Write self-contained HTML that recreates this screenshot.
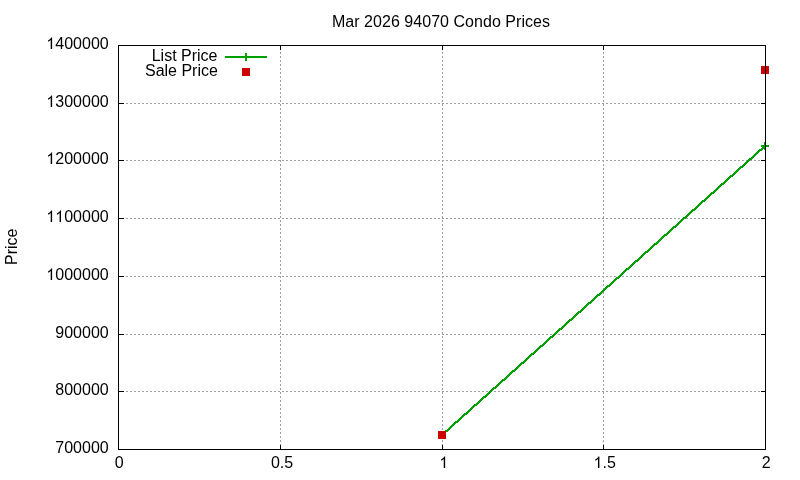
<!DOCTYPE html>
<html><head><meta charset="utf-8"><style>
html,body{margin:0;padding:0;background:#fff;width:800px;height:480px;overflow:hidden}
svg{display:block;will-change:transform}
text{font-family:"Liberation Sans",sans-serif;font-size:16px;fill:#000}
.g{stroke:#a0a0a0;stroke-width:1;stroke-dasharray:2 2;stroke-dashoffset:0.5}
.gv{stroke:#a0a0a0;stroke-width:1;stroke-dasharray:2 2;stroke-dashoffset:1.5}
</style></head><body>
<svg width="800" height="480" viewBox="0 0 800 480">
<line x1="118.5" y1="103.5" x2="765.5" y2="103.5" class="g"/>
<line x1="118.5" y1="160.5" x2="765.5" y2="160.5" class="g"/>
<line x1="118.5" y1="218.5" x2="765.5" y2="218.5" class="g"/>
<line x1="118.5" y1="276.5" x2="765.5" y2="276.5" class="g"/>
<line x1="118.5" y1="334.5" x2="765.5" y2="334.5" class="g"/>
<line x1="118.5" y1="391.5" x2="765.5" y2="391.5" class="g"/>
<line x1="280.5" y1="45.5" x2="280.5" y2="449.5" class="gv"/>
<line x1="442.5" y1="45.5" x2="442.5" y2="449.5" class="gv"/>
<line x1="603.5" y1="45.5" x2="603.5" y2="449.5" class="gv"/>
<path d="M118 45.5H124M761 45.5H766M118 103.5H124M761 103.5H766M118 160.5H124M761 160.5H766M118 218.5H124M761 218.5H766M118 276.5H124M761 276.5H766M118 334.5H124M761 334.5H766M118 391.5H124M761 391.5H766M118 449.5H124M761 449.5H766M118.5 450V445M118.5 45V50M280.5 450V445M280.5 45V50M442.5 450V445M442.5 45V50M603.5 450V445M603.5 45V50M765.5 450V445M765.5 45V50" stroke="#000" stroke-width="1" fill="none"/>
<path d="M441 434h1v2h-1zM442 433h1v3h-1zM443 432h1v3h-1zM444 431h1v3h-1zM445 430h1v3h-1zM446 430h1v2h-1zM447 429h1v3h-1zM448 428h1v3h-1zM449 427h1v3h-1zM450 426h1v3h-1zM451 425h1v3h-1zM452 424h1v3h-1zM453 423h1v3h-1zM454 422h1v3h-1zM455 421h1v3h-1zM456 421h1v2h-1zM457 420h1v3h-1zM458 419h1v3h-1zM459 418h1v3h-1zM460 417h1v3h-1zM461 416h1v3h-1zM462 415h1v3h-1zM463 414h1v3h-1zM464 413h1v3h-1zM465 413h1v2h-1zM466 412h1v3h-1zM467 411h1v3h-1zM468 410h1v3h-1zM469 409h1v3h-1zM470 408h1v3h-1zM471 407h1v3h-1zM472 406h1v3h-1zM473 405h1v3h-1zM474 404h1v3h-1zM475 404h1v2h-1zM476 403h1v3h-1zM477 402h1v3h-1zM478 401h1v3h-1zM479 400h1v3h-1zM480 399h1v3h-1zM481 398h1v3h-1zM482 397h1v3h-1zM483 396h1v3h-1zM484 396h1v2h-1zM485 395h1v3h-1zM486 394h1v3h-1zM487 393h1v3h-1zM488 392h1v3h-1zM489 391h1v3h-1zM490 390h1v3h-1zM491 389h1v3h-1zM492 388h1v3h-1zM493 387h1v3h-1zM494 387h1v2h-1zM495 386h1v3h-1zM496 385h1v3h-1zM497 384h1v3h-1zM498 383h1v3h-1zM499 382h1v3h-1zM500 381h1v3h-1zM501 380h1v3h-1zM502 379h1v3h-1zM503 379h1v2h-1zM504 378h1v3h-1zM505 377h1v3h-1zM506 376h1v3h-1zM507 375h1v3h-1zM508 374h1v3h-1zM509 373h1v3h-1zM510 372h1v3h-1zM511 371h1v3h-1zM512 370h1v3h-1zM513 370h1v2h-1zM514 369h1v3h-1zM515 368h1v3h-1zM516 367h1v3h-1zM517 366h1v3h-1zM518 365h1v3h-1zM519 364h1v3h-1zM520 363h1v3h-1zM521 362h1v3h-1zM522 362h1v2h-1zM523 361h1v3h-1zM524 360h1v3h-1zM525 359h1v3h-1zM526 358h1v3h-1zM527 357h1v3h-1zM528 356h1v3h-1zM529 355h1v3h-1zM530 354h1v3h-1zM531 353h1v3h-1zM532 353h1v2h-1zM533 352h1v3h-1zM534 351h1v3h-1zM535 350h1v3h-1zM536 349h1v3h-1zM537 348h1v3h-1zM538 347h1v3h-1zM539 346h1v3h-1zM540 345h1v3h-1zM541 345h1v2h-1zM542 344h1v3h-1zM543 343h1v3h-1zM544 342h1v3h-1zM545 341h1v3h-1zM546 340h1v3h-1zM547 339h1v3h-1zM548 338h1v3h-1zM549 337h1v3h-1zM550 336h1v3h-1zM551 336h1v2h-1zM552 335h1v3h-1zM553 334h1v3h-1zM554 333h1v3h-1zM555 332h1v3h-1zM556 331h1v3h-1zM557 330h1v3h-1zM558 329h1v3h-1zM559 328h1v3h-1zM560 328h1v2h-1zM561 327h1v3h-1zM562 326h1v3h-1zM563 325h1v3h-1zM564 324h1v3h-1zM565 323h1v3h-1zM566 322h1v3h-1zM567 321h1v3h-1zM568 320h1v3h-1zM569 319h1v3h-1zM570 319h1v2h-1zM571 318h1v3h-1zM572 317h1v3h-1zM573 316h1v3h-1zM574 315h1v3h-1zM575 314h1v3h-1zM576 313h1v3h-1zM577 312h1v3h-1zM578 311h1v3h-1zM579 311h1v2h-1zM580 310h1v3h-1zM581 309h1v3h-1zM582 308h1v3h-1zM583 307h1v3h-1zM584 306h1v3h-1zM585 305h1v3h-1zM586 304h1v3h-1zM587 303h1v3h-1zM588 302h1v3h-1zM589 302h1v2h-1zM590 301h1v3h-1zM591 300h1v3h-1zM592 299h1v3h-1zM593 298h1v3h-1zM594 297h1v3h-1zM595 296h1v3h-1zM596 295h1v3h-1zM597 294h1v3h-1zM598 294h1v2h-1zM599 293h1v3h-1zM600 292h1v3h-1zM601 291h1v3h-1zM602 290h1v3h-1zM603 289h1v3h-1zM604 288h1v3h-1zM605 287h1v3h-1zM606 286h1v3h-1zM607 285h1v3h-1zM608 285h1v2h-1zM609 284h1v3h-1zM610 283h1v3h-1zM611 282h1v3h-1zM612 281h1v3h-1zM613 280h1v3h-1zM614 279h1v3h-1zM615 278h1v3h-1zM616 277h1v3h-1zM617 277h1v2h-1zM618 276h1v3h-1zM619 275h1v3h-1zM620 274h1v3h-1zM621 273h1v3h-1zM622 272h1v3h-1zM623 271h1v3h-1zM624 270h1v3h-1zM625 269h1v3h-1zM626 268h1v3h-1zM627 268h1v2h-1zM628 267h1v3h-1zM629 266h1v3h-1zM630 265h1v3h-1zM631 264h1v3h-1zM632 263h1v3h-1zM633 262h1v3h-1zM634 261h1v3h-1zM635 260h1v3h-1zM636 260h1v2h-1zM637 259h1v3h-1zM638 258h1v3h-1zM639 257h1v3h-1zM640 256h1v3h-1zM641 255h1v3h-1zM642 254h1v3h-1zM643 253h1v3h-1zM644 252h1v3h-1zM645 251h1v3h-1zM646 251h1v2h-1zM647 250h1v3h-1zM648 249h1v3h-1zM649 248h1v3h-1zM650 247h1v3h-1zM651 246h1v3h-1zM652 245h1v3h-1zM653 244h1v3h-1zM654 243h1v3h-1zM655 243h1v2h-1zM656 242h1v3h-1zM657 241h1v3h-1zM658 240h1v3h-1zM659 239h1v3h-1zM660 238h1v3h-1zM661 237h1v3h-1zM662 236h1v3h-1zM663 235h1v3h-1zM664 234h1v3h-1zM665 234h1v2h-1zM666 233h1v3h-1zM667 232h1v3h-1zM668 231h1v3h-1zM669 230h1v3h-1zM670 229h1v3h-1zM671 228h1v3h-1zM672 227h1v3h-1zM673 226h1v3h-1zM674 226h1v2h-1zM675 225h1v3h-1zM676 224h1v3h-1zM677 223h1v3h-1zM678 222h1v3h-1zM679 221h1v3h-1zM680 220h1v3h-1zM681 219h1v3h-1zM682 218h1v3h-1zM683 217h1v3h-1zM684 217h1v2h-1zM685 216h1v3h-1zM686 215h1v3h-1zM687 214h1v3h-1zM688 213h1v3h-1zM689 212h1v3h-1zM690 211h1v3h-1zM691 210h1v3h-1zM692 209h1v3h-1zM693 209h1v2h-1zM694 208h1v3h-1zM695 207h1v3h-1zM696 206h1v3h-1zM697 205h1v3h-1zM698 204h1v3h-1zM699 203h1v3h-1zM700 202h1v3h-1zM701 201h1v3h-1zM702 200h1v3h-1zM703 200h1v2h-1zM704 199h1v3h-1zM705 198h1v3h-1zM706 197h1v3h-1zM707 196h1v3h-1zM708 195h1v3h-1zM709 194h1v3h-1zM710 193h1v3h-1zM711 192h1v3h-1zM712 192h1v2h-1zM713 191h1v3h-1zM714 190h1v3h-1zM715 189h1v3h-1zM716 188h1v3h-1zM717 187h1v3h-1zM718 186h1v3h-1zM719 185h1v3h-1zM720 184h1v3h-1zM721 183h1v3h-1zM722 183h1v2h-1zM723 182h1v3h-1zM724 181h1v3h-1zM725 180h1v3h-1zM726 179h1v3h-1zM727 178h1v3h-1zM728 177h1v3h-1zM729 176h1v3h-1zM730 175h1v3h-1zM731 175h1v2h-1zM732 174h1v3h-1zM733 173h1v3h-1zM734 172h1v3h-1zM735 171h1v3h-1zM736 170h1v3h-1zM737 169h1v3h-1zM738 168h1v3h-1zM739 167h1v3h-1zM740 166h1v3h-1zM741 166h1v2h-1zM742 165h1v3h-1zM743 164h1v3h-1zM744 163h1v3h-1zM745 162h1v3h-1zM746 161h1v3h-1zM747 160h1v3h-1zM748 159h1v3h-1zM749 158h1v3h-1zM750 158h1v2h-1zM751 157h1v3h-1zM752 156h1v3h-1zM753 155h1v3h-1zM754 154h1v3h-1zM755 153h1v3h-1zM756 152h1v3h-1zM757 151h1v3h-1zM758 150h1v3h-1zM759 149h1v3h-1zM760 149h1v2h-1zM761 148h1v3h-1zM762 147h1v3h-1zM763 146h1v3h-1zM764 145h1v3h-1zM765 145h1v2h-1z" fill="#00a000" shape-rendering="crispEdges"/>
<path d="M438 435H446M442 431V439" stroke="#00a000" stroke-width="2" fill="none"/>
<path d="M761 146H769M765 142V150" stroke="#00a000" stroke-width="2" fill="none"/>
<rect x="438" y="431" width="8" height="8" fill="#cc0000"/>
<rect x="761" y="66" width="8" height="8" fill="#cc0000"/>
<rect x="118.5" y="45.5" width="647" height="404" stroke="#000" stroke-width="1" fill="none"/>
<path d="M225 57H267" stroke="#00a000" stroke-width="2" fill="none"/>
<path d="M242 57H250M246 53V61" stroke="#00a000" stroke-width="2" fill="none"/>
<rect x="242" y="68" width="8" height="8" fill="#cc0000"/>
<text x="217.5" y="60.5" text-anchor="end">List Price</text>
<text x="217.9" y="76" text-anchor="end">Sale Price</text>
<path transform="translate(46.41 49) scale(0.0078125 -0.0078125)" d="M550 0L550 1150Q470 1080 390 1030Q300 975 222 940L222 1110Q340 1165 440 1250Q560 1350 610 1470L730 1470L730 0Z"/><text x="55.31" y="49">400000</text>
<path transform="translate(46.41 107) scale(0.0078125 -0.0078125)" d="M550 0L550 1150Q470 1080 390 1030Q300 975 222 940L222 1110Q340 1165 440 1250Q560 1350 610 1470L730 1470L730 0Z"/><text x="55.31" y="107">300000</text>
<path transform="translate(46.41 164) scale(0.0078125 -0.0078125)" d="M550 0L550 1150Q470 1080 390 1030Q300 975 222 940L222 1110Q340 1165 440 1250Q560 1350 610 1470L730 1470L730 0Z"/><text x="55.31" y="164">200000</text>
<path transform="translate(46.41 222) scale(0.0078125 -0.0078125)" d="M550 0L550 1150Q470 1080 390 1030Q300 975 222 940L222 1110Q340 1165 440 1250Q560 1350 610 1470L730 1470L730 0Z"/><path transform="translate(55.31 222) scale(0.0078125 -0.0078125)" d="M550 0L550 1150Q470 1080 390 1030Q300 975 222 940L222 1110Q340 1165 440 1250Q560 1350 610 1470L730 1470L730 0Z"/><text x="64.21" y="222">00000</text>
<path transform="translate(46.41 280) scale(0.0078125 -0.0078125)" d="M550 0L550 1150Q470 1080 390 1030Q300 975 222 940L222 1110Q340 1165 440 1250Q560 1350 610 1470L730 1470L730 0Z"/><text x="55.31" y="280">000000</text>
<text x="55.31" y="338">900000</text>
<text x="55.31" y="395">800000</text>
<text x="55.31" y="453">700000</text>
<text x="114.85" y="468">0</text>
<text x="270.88" y="468">0.5</text>
<path transform="translate(439.45 468) scale(0.0078125 -0.0078125)" d="M550 0L550 1150Q470 1080 390 1030Q300 975 222 940L222 1110Q340 1165 440 1250Q560 1350 610 1470L730 1470L730 0Z"/>
<path transform="translate(593.68 468) scale(0.0078125 -0.0078125)" d="M550 0L550 1150Q470 1080 390 1030Q300 975 222 940L222 1110Q340 1165 440 1250Q560 1350 610 1470L730 1470L730 0Z"/><text x="602.58" y="468">.5</text>
<text x="761.75" y="468">2</text>
<text x="441" y="27" text-anchor="middle" letter-spacing="0.04">Mar 2026 94070 Condo Prices</text>
<text transform="translate(16.5 246.75) rotate(-90)" text-anchor="middle">Price</text>
</svg>
</body></html>
